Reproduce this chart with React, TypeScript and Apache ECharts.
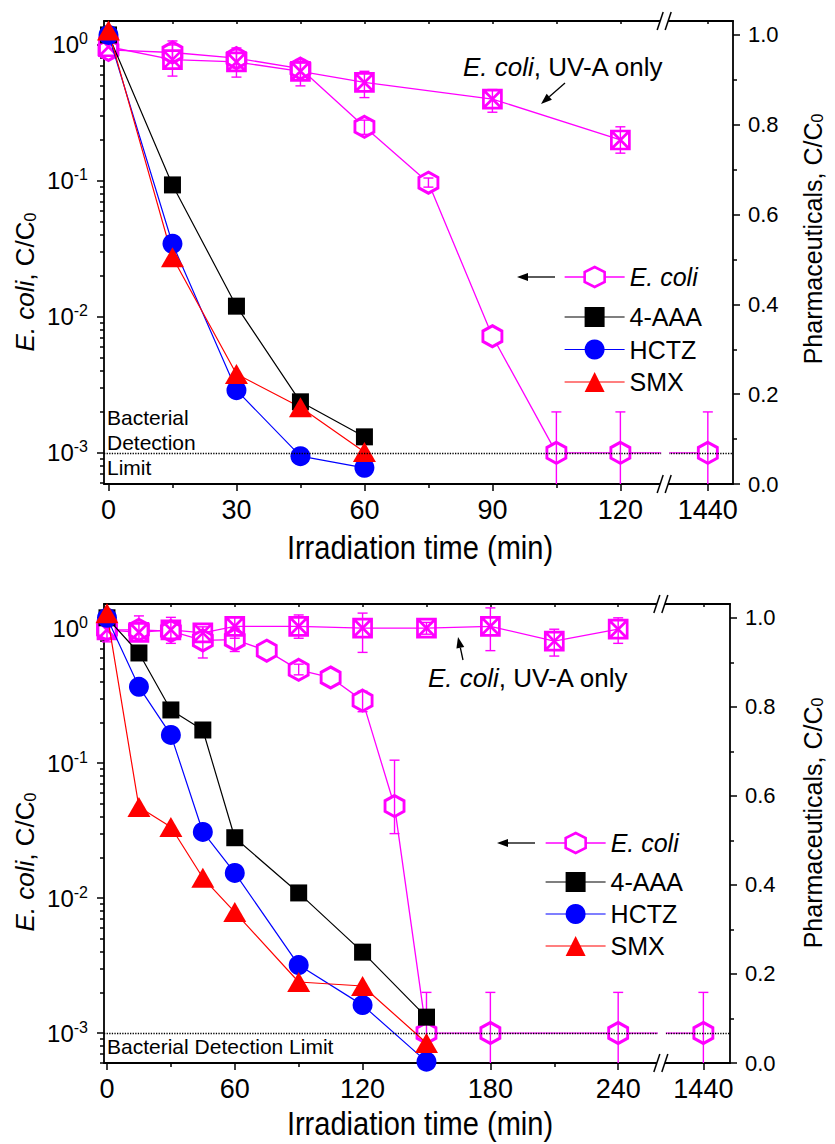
import React, { useEffect, useRef } from "react";
import * as echarts from "echarts";

// ---------------- data: panel A (top) ----------------
const A_ECOLI_T = [0, 15, 30, 45, 60, 75, 90, 105, 120, 1440];
const A_ECOLI = [0.92, 0.88, 0.8, 0.67, 0.25, 0.097, 0.0072, 0.001, 0.001, 0.001];
const A_ECOLI_LO = [null, 0.75, 0.68, 0.55, 0.22, 0.09, null, 0, 0, 0];
const A_ECOLI_HI = [null, 1.0, 0.92, 0.78, 0.28, 0.105, null, 0.002, 0.002, 0.002];
const A_UVA_T = [0, 15, 30, 45, 60, 90, 120];
const A_UVA = [0.97, 0.78, 0.75, 0.64, 0.53, 0.4, 0.2];
const A_UVA_LO = [null, 0.59, 0.58, 0.5, 0.41, 0.32, 0.16];
const A_UVA_HI = [null, 1.07, 0.95, 0.74, 0.64, 0.47, 0.25];
const A_PHARM_T = [0, 15, 30, 45, 60];
const A_AAA = [1.0, 0.666, 0.396, 0.183, 0.105];
const A_HCTZ = [1.0, 0.535, 0.209, 0.062, 0.036];
const A_SMX = [1.01, 0.505, 0.245, 0.171, 0.071];
const A_X_MAJOR = [0, 30, 60, 90, 120, 1440];
const A_X_MINOR = [15, 45, 75, 105];

// ---------------- data: panel B (bottom) ----------------
const B_ECOLI_T = [0, 15, 30, 45, 60, 75, 90, 105, 120, 135, 150, 180, 240, 1440];
const B_ECOLI = [0.97, 0.97, 0.95, 0.81, 0.82, 0.68, 0.49, 0.43, 0.29, 0.048, 0.001, 0.001, 0.001, 0.001];
const B_ECOLI_LO = [0.79, null, null, null, 0.67, null, 0.45, null, 0.24, 0.03, 0, 0, 0, 0];
const B_ECOLI_HI = [1.3, null, null, null, 1.0, null, 0.54, null, 0.34, 0.105, 0.002, 0.002, 0.002, 0.002];
const B_UVA_T = [0, 15, 30, 45, 60, 90, 120, 150, 180, 210, 240];
const B_UVA = [0.97, 0.93, 0.97, 0.92, 1.03, 1.03, 1.0, 1.0, 1.03, 0.8, 0.98];
const B_UVA_LO = [null, 0.81, 0.77, 0.6, 0.84, 0.84, 0.66, 0.9, 0.68, 0.62, 0.77];
const B_UVA_HI = [null, 1.23, 1.2, 1.02, 1.2, 1.25, 1.29, 1.1, 1.41, 0.98, 1.19];
const B_PHARM_T = [0, 15, 30, 45, 60, 90, 120, 150];
const B_AAA = [1.0, 0.921, 0.793, 0.748, 0.506, 0.382, 0.249, 0.103];
const B_HCTZ = [1.0, 0.845, 0.737, 0.519, 0.427, 0.22, 0.13, 0.003];
const B_SMX = [1.01, 0.575, 0.53, 0.416, 0.339, 0.182, 0.173, 0.045];
const B_X_MAJOR = [0, 60, 120, 180, 240, 1440];
const B_X_MINOR = [30, 90, 150, 210];

const LOG_MAJOR = [0.001, 0.01, 0.1, 1];
const LOG_MINOR = [6e-4, 7e-4, 8e-4, 9e-4, 2e-3, 3e-3, 4e-3, 5e-3, 6e-3, 7e-3, 8e-3, 9e-3,
  0.02, 0.03, 0.04, 0.05, 0.06, 0.07, 0.08, 0.09, 0.2, 0.3, 0.4, 0.5, 0.6, 0.7, 0.8, 0.9];
const R_MAJOR = [0, 0.2, 0.4, 0.6, 0.8, 1.0];
const R_MINOR = [0.1, 0.3, 0.5, 0.7, 0.9];
const DETECTION_LIMIT = 0.001;

// ---------------- styles ----------------
const MAGENTA = "#FF00FF";
const BLACK = "#000000";
const BLUE = "#0000FF";
const RED = "#FF0000";
const SANS = "'Liberation Sans', Arial, sans-serif";
const HEX = "path://M0,-10L8.66,-5L8.66,5L0,10L-8.66,5L-8.66,-5Z";
const XSQ = "path://M-8,-8L8,-8L8,8L-8,8Z M-8,-8L8,8 M8,-8L-8,8";

const lg = (v: number) => (v > 0 ? Math.log10(v) : -10);

type PanelCfg = {
  grid: { left: number; top: number; width: number; height: number };
  xMin: number; xMax: number; breakAt: number; farPos: number; farT: number;
  xMajor: number[]; xMinor: number[];
  yLogMin: number; yLogMax: number; yRMax: number;
  ecoliT: number[]; ecoli: number[]; ecoliLo: (number | null)[]; ecoliHi: (number | null)[];
  uvaT: number[]; uva: number[]; uvaLo: (number | null)[]; uvaHi: (number | null)[];
  pharmT: number[]; aaa: number[]; hctz: number[]; smx: number[];
};

const PANEL_A: PanelCfg = {
  grid: { left: 104, top: 21, width: 629, height: 463 },
  xMin: -1.05, xMax: 146.4, breakAt: 130.5, farPos: 140.5, farT: 1440,
  xMajor: A_X_MAJOR, xMinor: A_X_MINOR,
  yLogMin: Math.log10(5.9e-4), yLogMax: Math.log10(1.5), yRMax: 1.031,
  ecoliT: A_ECOLI_T, ecoli: A_ECOLI, ecoliLo: A_ECOLI_LO, ecoliHi: A_ECOLI_HI,
  uvaT: A_UVA_T, uva: A_UVA, uvaLo: A_UVA_LO, uvaHi: A_UVA_HI,
  pharmT: A_PHARM_T, aaa: A_AAA, hctz: A_HCTZ, smx: A_SMX,
};
const PANEL_B: PanelCfg = {
  grid: { left: 104, top: 604, width: 626, height: 459 },
  xMin: -1.4, xMax: 292.5, breakAt: 260.5, farPos: 280, farT: 1440,
  xMajor: B_X_MAJOR, xMinor: B_X_MINOR,
  yLogMin: -3.222, yLogMax: 0.178, yRMax: 1.031,
  ecoliT: B_ECOLI_T, ecoli: B_ECOLI, ecoliLo: B_ECOLI_LO, ecoliHi: B_ECOLI_HI,
  uvaT: B_UVA_T, uva: B_UVA, uvaLo: B_UVA_LO, uvaHi: B_UVA_HI,
  pharmT: B_PHARM_T, aaa: B_AAA, hctz: B_HCTZ, smx: B_SMX,
};

const xv = (p: PanelCfg, t: number) => (t > p.breakAt ? p.farPos + (t - p.farT) : t);

function errorSeries(p: PanelCfg, gi: number, ts: number[], lo: (number | null)[], hi: (number | null)[]) {
  const data: number[][] = [];
  ts.forEach((t, i) => {
    if (lo[i] == null || hi[i] == null) return;
    data.push([xv(p, t), lg(lo[i] as number), lg(hi[i] as number)]);
  });
  return {
    type: "custom",
    xAxisIndex: gi * 3,
    yAxisIndex: gi * 4,
    z: 3,
    encode: { x: 0, y: [1, 2] },
    data,
    renderItem: (params: any, api: any) => {
      const x = api.value(0);
      const a = api.coord([x, api.value(1)]);
      const b = api.coord([x, api.value(2)]);
      const cs = params.coordSys;
      const bottom = cs.y + cs.height;
      const yLo = Math.min(a[1], bottom);
      const w = 5;
      const st = { stroke: MAGENTA, lineWidth: 1.4 };
      const children: any[] = [
        { type: "line", shape: { x1: b[0], y1: b[1], x2: b[0], y2: yLo }, style: st },
        { type: "line", shape: { x1: b[0] - w, y1: b[1], x2: b[0] + w, y2: b[1] }, style: st },
      ];
      if (a[1] <= bottom) children.push({ type: "line", shape: { x1: a[0] - w, y1: a[1], x2: a[0] + w, y2: a[1] }, style: st });
      return { type: "group", children };
    },
  };
}

function buildPanel(p: PanelCfg, gi: number) {
  const axisLine = { show: true, onZero: false, lineStyle: { color: BLACK, width: 1.8 } };
  const tickLine = { color: BLACK, width: 1.5 };
  const isFar = (v: number) => Math.abs(v - p.farPos) < 1e-6;
  const majorX = p.xMajor.map((t) => xv(p, t));
  const minorX = p.xMinor.map((t) => xv(p, t));
  const xAxes = [
    {
      gridIndex: gi, type: "value", position: "bottom", min: p.xMin, max: p.xMax,
      axisLine, splitLine: { show: false },
      axisTick: { show: true, customValues: majorX, length: 7, inside: false, lineStyle: tickLine },
      axisLabel: {
        show: true, customValues: majorX, margin: 12, color: BLACK, fontSize: 27, fontFamily: SANS,
        formatter: (v: number) => (isFar(v) ? String(p.farT) : String(Math.round(v))),
      },
    },
    {
      gridIndex: gi, type: "value", position: "bottom", min: p.xMin, max: p.xMax,
      axisLine: { show: false, onZero: false }, splitLine: { show: false },
      axisTick: { show: true, customValues: minorX, length: 4, inside: false, lineStyle: tickLine },
      axisLabel: { show: false },
    },
    {
      gridIndex: gi, type: "value", position: "top", min: p.xMin, max: p.xMax,
      axisLine, splitLine: { show: false },
      axisTick: { show: true, customValues: majorX.concat(minorX), length: 3, inside: true, lineStyle: tickLine },
      axisLabel: { show: false },
    },
  ];
  const logMajor = LOG_MAJOR.map(lg);
  const logMinor = LOG_MINOR.map(lg);
  const yAxes = [
    {
      gridIndex: gi, type: "value", position: "left", min: p.yLogMin, max: p.yLogMax,
      axisLine, splitLine: { show: false },
      axisTick: { show: true, customValues: logMajor, length: 7, inside: false, lineStyle: tickLine },
      axisLabel: {
        show: true, customValues: logMajor, margin: 16, color: BLACK, fontSize: 24, fontFamily: SANS, lineHeight: 28,
        formatter: (v: number) => "10{sup|" + Math.round(v) + "}",
        rich: { sup: { fontSize: 16, fontFamily: SANS, verticalAlign: "top", lineHeight: 16, color: BLACK } },
      },
    },
    {
      gridIndex: gi, type: "value", position: "left", min: p.yLogMin, max: p.yLogMax,
      axisLine: { show: false, onZero: false }, splitLine: { show: false },
      axisTick: { show: true, customValues: logMinor, length: 4, inside: false, lineStyle: tickLine },
      axisLabel: { show: false },
    },
    {
      gridIndex: gi, type: "value", position: "right", min: 0, max: p.yRMax,
      axisLine, splitLine: { show: false },
      axisTick: { show: true, customValues: R_MAJOR, length: 7, inside: false, lineStyle: tickLine },
      axisLabel: {
        show: true, customValues: R_MAJOR, margin: 15, color: BLACK, fontSize: 22, fontFamily: SANS,
        formatter: (v: number) => v.toFixed(1),
      },
    },
    {
      gridIndex: gi, type: "value", position: "right", min: 0, max: p.yRMax,
      axisLine: { show: false, onZero: false }, splitLine: { show: false },
      axisTick: { show: true, customValues: R_MINOR, length: 4, inside: false, lineStyle: tickLine },
      axisLabel: { show: false },
    },
  ];
  const xi = gi * 3;
  const yi = gi * 4;
  const series: any[] = [
    {
      name: "E. coli", type: "line", xAxisIndex: xi, yAxisIndex: yi, z: 2,
      symbol: HEX, symbolSize: [19, 21],
      itemStyle: { color: "#FFFFFF", borderColor: MAGENTA, borderWidth: 3 },
      lineStyle: { color: MAGENTA, width: 1.3 },
      data: p.ecoliT.map((t, i) => [xv(p, t), lg(p.ecoli[i])]),
      markLine: {
        silent: true, symbol: "none", label: { show: false },
        lineStyle: { type: "dotted", color: BLACK, width: 1.3 },
        data: [{ yAxis: lg(DETECTION_LIMIT) }],
      },
    },
    {
      name: "E. coli, UV-A only " + gi, type: "line", xAxisIndex: xi, yAxisIndex: yi, z: 2,
      symbol: XSQ, symbolSize: [18, 18],
      itemStyle: { color: "rgba(0,0,0,0)", borderColor: MAGENTA, borderWidth: 2.7 },
      lineStyle: { color: MAGENTA, width: 1.3 },
      data: p.uvaT.map((t, i) => [xv(p, t), lg(p.uva[i])]),
    },
    errorSeries(p, gi, p.ecoliT, p.ecoliLo, p.ecoliHi),
    errorSeries(p, gi, p.uvaT, p.uvaLo, p.uvaHi),
    {
      name: "4-AAA", type: "line", xAxisIndex: xi, yAxisIndex: yi + 2, z: 4,
      symbol: "rect", symbolSize: 17,
      itemStyle: { color: BLACK, borderWidth: 0 },
      lineStyle: { color: BLACK, width: 1.2 },
      data: p.pharmT.map((t, i) => [xv(p, t), p.aaa[i]]),
    },
    {
      name: "HCTZ", type: "line", xAxisIndex: xi, yAxisIndex: yi + 2, z: 4,
      symbol: "circle", symbolSize: 20,
      itemStyle: { color: BLUE, borderWidth: 0 },
      lineStyle: { color: BLUE, width: 1.2 },
      data: p.pharmT.map((t, i) => [xv(p, t), p.hctz[i]]),
    },
    {
      name: "SMX", type: "line", xAxisIndex: xi, yAxisIndex: yi + 2, z: 4,
      symbol: "triangle", symbolSize: [23, 20],
      itemStyle: { color: RED, borderWidth: 0 },
      lineStyle: { color: RED, width: 1.2 },
      data: p.pharmT.map((t, i) => [xv(p, t), p.smx[i]]),
    },
  ];
  return { grid: { ...p.grid, containLabel: false }, xAxes, yAxes, series };
}

const legendText = {
  color: BLACK, fontSize: 25, fontFamily: SANS,
  rich: { i: { fontStyle: "italic", fontSize: 25, fontFamily: SANS, color: BLACK } },
};
const legendFmt = (n: string) => (n === "E. coli" ? "{i|E. coli}" : n);
const pharmLegendData = [
  { name: "4-AAA", itemStyle: { color: BLACK, borderWidth: 0 }, lineStyle: { color: BLACK, width: 1.2 } },
  { name: "HCTZ", itemStyle: { color: BLUE, borderWidth: 0 }, lineStyle: { color: BLUE, width: 1.2 } },
  { name: "SMX", itemStyle: { color: RED, borderWidth: 0 }, lineStyle: { color: RED, width: 1.2 } },
];
const ecoliLegendData = [
  { name: "E. coli", itemStyle: { color: "#FFFFFF", borderColor: MAGENTA, borderWidth: 2.6 }, lineStyle: { color: MAGENTA, width: 1.3 } },
];
function makeLegend(data: any[], left: number, top: number, gap: number) {
  return {
    data, left, top, orient: "vertical", itemWidth: 60, itemHeight: 25, itemGap: gap, z: 120,
    padding: 0, selectedMode: false, formatter: legendFmt, textStyle: legendText,
  };
}

function arrow(x1: number, y1: number, x2: number, y2: number) {
  const L = 11, W = 4;
  const dx = x2 - x1, dy = y2 - y1;
  const len = Math.sqrt(dx * dx + dy * dy);
  const ux = dx / len, uy = dy / len;
  const bx = x2 - ux * L, by = y2 - uy * L;
  return [
    { type: "line", z: 110, shape: { x1, y1, x2: bx, y2: by }, style: { stroke: BLACK, lineWidth: 1.3 } },
    {
      type: "polygon", z: 110,
      shape: { points: [[x2, y2], [bx - uy * W, by + ux * W], [bx + uy * W, by - ux * W]] },
      style: { fill: BLACK },
    },
  ];
}

function txt(x: number, y: number, text: string, size: number, opts: any = {}) {
  return {
    type: "text", z: 110, x, y, rotation: opts.rotation || 0, scaleX: opts.scaleX || 1,
    style: {
      text, fontSize: size, fontFamily: SANS, fill: BLACK,
      align: opts.align || "left", verticalAlign: "middle", lineHeight: opts.lineHeight,
      rich: {
        i: { fontStyle: "italic", fontSize: size, fontFamily: SANS, fill: BLACK },
        sub: { fontSize: Math.round(size * 0.62), fontFamily: SANS, fill: BLACK, verticalAlign: "bottom", lineHeight: Math.round(size * 0.62) },
      },
    },
  };
}

function breakMarks(bx: number, yTop: number, yBot: number, yDet: number) {
  const els: any[] = [
    { type: "rect", z: 100, shape: { x: bx - 4, y: yDet - 5, width: 8, height: 10 }, style: { fill: "#FFFFFF" } },
  ];
  [yTop, yBot].forEach((y) => {
    els.push({ type: "polygon", z: 101, shape: { points: [[bx - 8, y + 9], [bx - 2, y - 9], [bx + 6, y - 9], [bx, y + 9]] }, style: { fill: "#FFFFFF" } });
    els.push({ type: "line", z: 102, shape: { x1: bx - 8, y1: y + 9, x2: bx - 2, y2: y - 9 }, style: { stroke: BLACK, lineWidth: 1.5 } });
    els.push({ type: "line", z: 102, shape: { x1: bx, y1: y + 9, x2: bx + 6, y2: y - 9 }, style: { stroke: BLACK, lineWidth: 1.5 } });
  });
  return els;
}

export default function App() {
  const ref = useRef<HTMLDivElement>(null);
  useEffect(() => {
    if (!ref.current) return;
    const chart = echarts.init(ref.current, null, { renderer: "svg" });
    const a = buildPanel(PANEL_A, 0);
    const b = buildPanel(PANEL_B, 1);
    chart.setOption({
      animation: false,
      backgroundColor: "#FFFFFF",
      grid: [a.grid, b.grid],
      xAxis: [...a.xAxes, ...b.xAxes],
      yAxis: [...a.yAxes, ...b.yAxes],
      series: [...a.series, ...b.series],
      legend: [
        makeLegend(ecoliLegendData, 564, 264.5, 8),
        makeLegend(pharmLegendData, 564, 304.5, 7.5),
        makeLegend(ecoliLegendData, 545, 830.5, 8),
        makeLegend(pharmLegendData, 545, 869.5, 7),
      ],
    });
    const bxA = chart.convertToPixel({ xAxisIndex: 0 } as any, PANEL_A.breakAt) as unknown as number;
    const bxB = chart.convertToPixel({ xAxisIndex: 3 } as any, PANEL_B.breakAt) as unknown as number;
    const ydA = chart.convertToPixel({ yAxisIndex: 0 } as any, lg(DETECTION_LIMIT)) as unknown as number;
    const ydB = chart.convertToPixel({ yAxisIndex: 4 } as any, lg(DETECTION_LIMIT)) as unknown as number;
    const gA = PANEL_A.grid, gB = PANEL_B.grid;
    const graphic: any[] = [
      ...breakMarks(bxA, gA.top, gA.top + gA.height, ydA),
      ...breakMarks(bxB, gB.top, gB.top + gB.height, ydB),
      // panel A annotations
      txt(463, 67, "{i|E. coli}, UV-A only", 26),
      ...arrow(565, 83, 541, 104),
      ...arrow(555, 277, 517, 277),
      txt(107, 442, "Bacterial\nDetection\nLimit", 21, { lineHeight: 25 }),
      txt(25, 282, "{i|E. coli}, C/C{sub|0}", 26, { align: "center", rotation: Math.PI / 2 }),
      txt(813, 239, "Pharmaceuticals, C/C{sub|0}", 25, { align: "center", rotation: Math.PI / 2 }),
      txt(420, 548, "Irradiation time (min)", 33, { align: "center", scaleX: 0.88 }),
      // panel B annotations
      txt(428, 678, "{i|E. coli}, UV-A only", 26),
      ...arrow(463, 660, 458, 637),
      ...arrow(535, 843, 497, 843),
      txt(107, 1046, "Bacterial Detection Limit", 21),
      txt(25, 862, "{i|E. coli}, C/C{sub|0}", 26, { align: "center", rotation: Math.PI / 2 }),
      txt(813, 823, "Pharmaceuticals, C/C{sub|0}", 25, { align: "center", rotation: Math.PI / 2 }),
      txt(420, 1124, "Irradiation time (min)", 33, { align: "center", scaleX: 0.88 }),
    ];
    chart.setOption({ graphic });
    return () => chart.dispose();
  }, []);
  return (
    <div
      ref={ref}
      style={{ position: "absolute", left: 0, top: 0, width: 835, height: 1144, background: "#fff" }}
    />
  );
}
